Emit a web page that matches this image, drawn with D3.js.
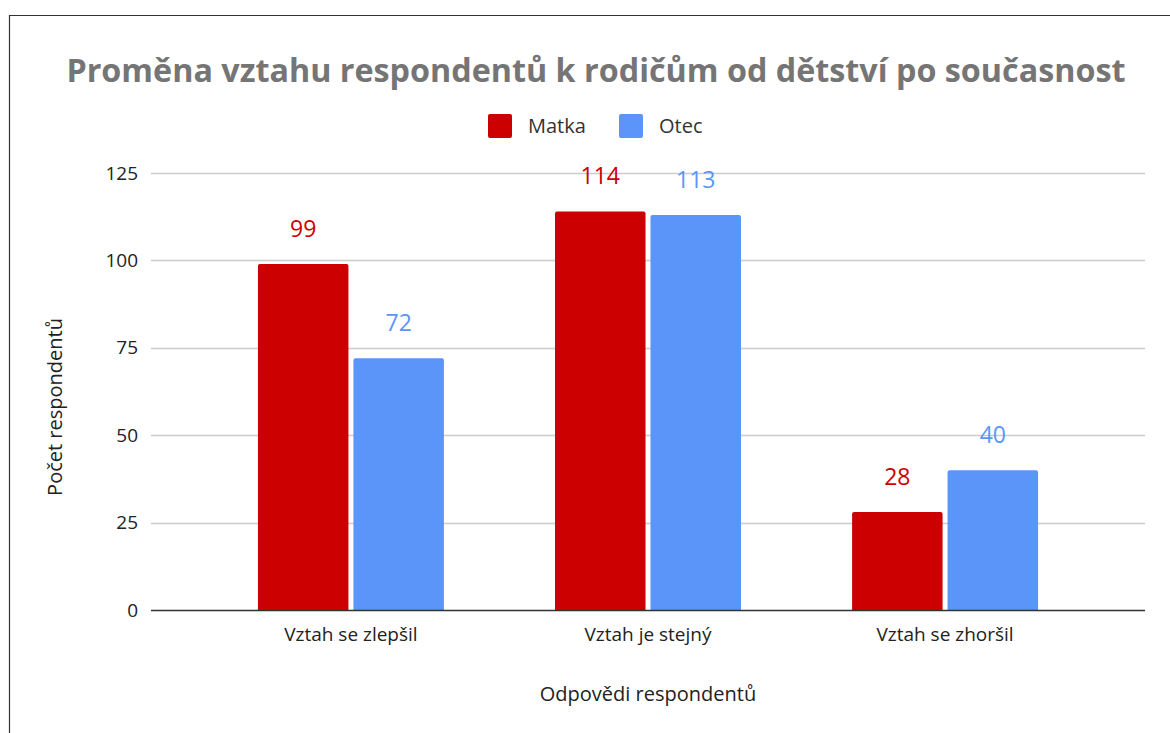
<!DOCTYPE html>
<html>
<head>
<meta charset="utf-8">
<script src="https://cdn.jsdelivr.net/npm/d3@7"></script>
<style>
  body { margin: 0; background: #fff; }
  svg { display: block; font-family: "Open Sans", sans-serif; }
</style>
</head>
<body>
<div id="chart"></div>
<script>
// data
var categories = ["Vztah se zlepšil", "Vztah je stejný", "Vztah se zhoršil"];
var seriesNames = ["Matka", "Otec"];
var matka = [99, 114, 28];
var otec = [72, 113, 40];
var yTicks = [0, 25, 50, 75, 100, 125];
var colors = ["#cc0000", "#5b95f9"];

var svgWidth = 1170, svgHeight = 733;
var margin = {top: 173, right: 25, bottom: 123, left: 151};
var width = svgWidth - margin.left - margin.right;
var height = svgHeight - margin.top - margin.bottom;

var svg = d3.select("#chart").append("svg")
  .attr("width", svgWidth)
  .attr("height", svgHeight);

// frame lines (top and left)
svg.append("line").attr("x1", 9).attr("x2", svgWidth).attr("y1", 15.5).attr("y2", 15.5)
  .attr("stroke", "#333").attr("stroke-width", 1.2);
svg.append("line").attr("x1", 9.5).attr("x2", 9.5).attr("y1", 15).attr("y2", svgHeight)
  .attr("stroke", "#333").attr("stroke-width", 1.2);

svg.append("text")
  .attr("x", 596).attr("y", 82)
  .attr("text-anchor", "middle")
  .attr("font-size", 32.3).attr("font-weight", "bold")
  .attr("fill", "#757575")
  .text("Proměna vztahu respondentů k rodičům od dětství po současnost");

// legend
var legendX = [488, 619];
seriesNames.forEach(function(name, i) {
  svg.append("rect").attr("x", legendX[i]).attr("y", 114).attr("width", 24).attr("height", 24)
    .attr("rx", 2).attr("fill", colors[i]);
  svg.append("text").attr("x", legendX[i] + 40).attr("y", 133)
    .attr("font-size", 20).attr("fill", "#333").text(name);
});

var g = svg.append("g")
  .attr("transform", "translate(" + margin.left + "," + margin.top + ")");

var y = d3.scaleLinear().domain([0, 125]).range([height, 0]);
var x = d3.scaleBand().domain(categories).range([0, width]).paddingInner(0.374).paddingOuter(0.36);
var x1 = d3.scaleBand().domain(seriesNames).range([0, x.bandwidth()]).paddingInner(0.052);

// grid
g.selectAll(".grid").data(yTicks.filter(function(d) { return d > 0; })).enter()
  .append("line")
  .attr("x1", 0).attr("x2", width)
  .attr("y1", function(d) { return Math.round(y(d)) + 0.5; })
  .attr("y2", function(d) { return Math.round(y(d)) + 0.5; })
  .attr("stroke", "#cccccc").attr("stroke-width", 1.3);

// y labels
g.selectAll(".ylab").data(yTicks).enter()
  .append("text")
  .attr("x", -13).attr("y", function(d) { return y(d); })
  .attr("dy", "0.35em").attr("text-anchor", "end")
  .attr("font-size", 19).attr("fill", "#222")
  .text(function(d) { return d; });

var rows = categories.map(function(c, i) {
  return {cat: c, values: [matka[i], otec[i]]};
});

var groups = g.selectAll(".grp").data(rows).enter()
  .append("g")
  .attr("transform", function(d) { return "translate(" + x(d.cat) + ",0)"; });

groups.selectAll("rect").data(function(d) {
    return d.values.map(function(v, i) { return {name: seriesNames[i], value: v, i: i}; });
  }).enter()
  .append("path")
  .attr("d", function(d) {
    var x0 = x1(d.name), w = x1.bandwidth(), y0 = y(d.value), h = height - y0, r = 2;
    return "M" + x0 + "," + (y0 + h) + "V" + (y0 + r) + "Q" + x0 + "," + y0 + " " + (x0 + r) + "," + y0 +
      "H" + (x0 + w - r) + "Q" + (x0 + w) + "," + y0 + " " + (x0 + w) + "," + (y0 + r) + "V" + (y0 + h) + "Z";
  })
  .attr("fill", function(d) { return colors[d.i]; });

groups.selectAll(".val").data(function(d) {
    return d.values.map(function(v, i) { return {name: seriesNames[i], value: v, i: i}; });
  }).enter()
  .append("text")
  .attr("x", function(d) { return x1(d.name) + x1.bandwidth() / 2; })
  .attr("y", function(d) { return y(d.value) - 27; })
  .attr("text-anchor", "middle")
  .attr("font-size", 23)
  .attr("fill", function(d) { return colors[d.i]; })
  .text(function(d) { return d.value; });

// baseline
g.append("line").attr("x1", 0).attr("x2", width)
  .attr("y1", height + 0.5).attr("y2", height + 0.5)
  .attr("stroke", "#333").attr("stroke-width", 1.5);

// x labels
g.selectAll(".xlab").data(categories).enter()
  .append("text")
  .attr("x", function(d) { return x(d) + x.bandwidth() / 2; })
  .attr("y", height + 31)
  .attr("text-anchor", "middle")
  .attr("font-size", 19).attr("fill", "#222")
  .text(function(d) { return d; });

// axis titles
svg.append("text")
  .attr("x", 648).attr("y", 701)
  .attr("text-anchor", "middle").attr("font-size", 20).attr("fill", "#222")
  .text("Odpovědi respondentů");

svg.append("text")
  .attr("transform", "translate(62,407) rotate(-90)")
  .attr("text-anchor", "middle").attr("font-size", 20).attr("fill", "#222")
  .text("Počet respondentů");
</script>
</body>
</html>
